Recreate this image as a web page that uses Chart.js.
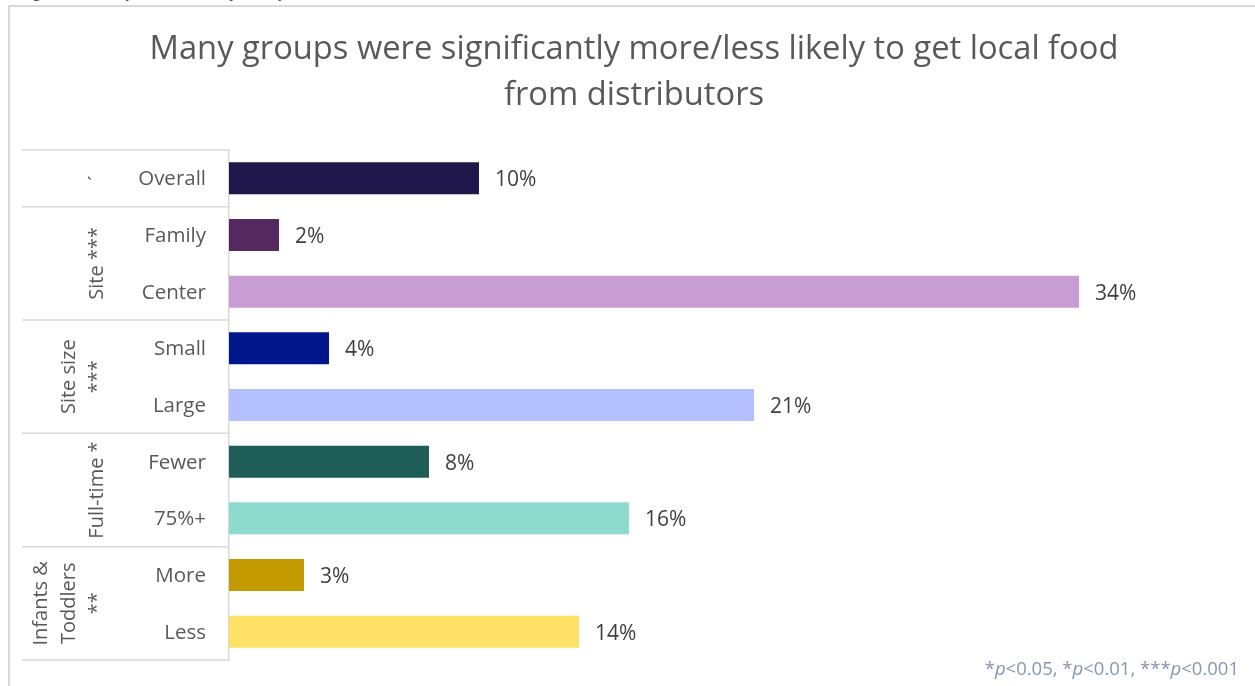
<!DOCTYPE html>
<html>
<head>
<meta charset="utf-8">
<script src="https://cdn.jsdelivr.net/npm/chart.js@4/dist/chart.umd.min.js"></script>
<style>
  html, body { margin: 0; padding: 0; background: #ffffff; }
  #wrap { position: relative; width: 1255px; height: 686px; }
  canvas { display: block; }
</style>
</head>
<body>
<div id="wrap"><canvas id="c" width="1255" height="686"></canvas></div>
<script>
const titleLines = ["Many groups were significantly more/less likely to get local food", "from distributors"];
const categories = ["Overall", "Family", "Center", "Small", "Large", "Fewer", "75%+", "More", "Less"];
const values = [10, 2, 34, 4, 21, 8, 16, 3, 14];
const groups = [
  { lines: ["\u00b4"], from: 0, to: 0 },
  { lines: ["Site ***"], from: 1, to: 2 },
  { lines: ["Site size", "***"], from: 3, to: 4 },
  { lines: ["Full-time *"], from: 5, to: 6 },
  { lines: ["Infants &", "Toddlers", "**"], from: 7, to: 8 }
];
const barColors = ["#20174A", "#54295F", "#C79DD3", "#00168A", "#B4BFFF", "#1E5E57", "#8EDBCE", "#C39B00", "#FEE165"];
const footnote = [["*", false], ["p", true], ["<0.05, *", false], ["p", true], ["<0.01, ***", false], ["p", true], ["<0.001", false]];
const captionText = "Figure 6. Local food sources by local food";

const FONT = "'Open Sans', 'Noto Sans', sans-serif";

const decor = {
  id: 'decor',
  beforeDraw(chart) {
    const ctx = chart.ctx;
    ctx.save();
    ctx.fillStyle = '#ffffff';
    ctx.fillRect(0, 0, chart.width, chart.height);
    // caption clipped at top
    ctx.fillStyle = '#44546A';
    ctx.font = "italic 16px " + FONT;
    ctx.textBaseline = 'alphabetic';
    ctx.textAlign = 'left';
    ctx.fillText(captionText, 22, -3);
    // outer frame
    ctx.strokeStyle = '#D9D9D9';
    ctx.lineWidth = 2;
    ctx.beginPath();
    ctx.moveTo(9, 700);
    ctx.lineTo(9, 6);
    ctx.lineTo(1255, 6);
    ctx.stroke();
    // title
    ctx.fillStyle = '#595959';
    ctx.font = "32.7px " + FONT;
    ctx.textAlign = 'center';
    ctx.textBaseline = 'middle';
    ctx.fillText(titleLines[0], 634, 50);
    ctx.fillText(titleLines[1], 634, 96);
    ctx.restore();
  },
  afterDraw(chart) {
    const ctx = chart.ctx;
    const y = chart.scales.y;
    const x = chart.scales.x;
    const area = chart.chartArea;
    const step = y.getPixelForValue(1) - y.getPixelForValue(0);
    ctx.save();
    // table lines
    ctx.strokeStyle = '#D9D9D9';
    ctx.lineWidth = 1.5;
    const bounds = [];
    groups.forEach((g, i) => {
      if (i === 0) bounds.push(y.getPixelForValue(g.from) - step / 2);
      bounds.push(y.getPixelForValue(g.to) + step / 2);
    });
    bounds.forEach(b => {
      ctx.beginPath();
      ctx.moveTo(22, b);
      ctx.lineTo(area.left, b);
      ctx.stroke();
    });
    // category labels
    ctx.fillStyle = '#595959';
    ctx.font = "20.5px " + FONT;
    ctx.textAlign = 'right';
    ctx.textBaseline = 'middle';
    categories.forEach((c, i) => {
      ctx.fillText(c, 206, y.getPixelForValue(i) + 1);
    });
    // group labels rotated
    groups.forEach(g => {
      const cy = (y.getPixelForValue(g.from) + y.getPixelForValue(g.to)) / 2;
      const n = g.lines.length;
      ctx.save();
      ctx.font = "20px " + FONT;
      ctx.textAlign = 'center';
      ctx.textBaseline = 'middle';
      g.lines.forEach((ln, k) => {
        const cx = 97 - (n - 1 - k) * 28;
        ctx.save();
        ctx.translate(cx, cy);
        ctx.rotate(-Math.PI / 2);
        ctx.fillText(ln, 0, 0);
        ctx.restore();
      });
      ctx.restore();
    });
    // data labels
    ctx.fillStyle = '#404040';
    ctx.font = "21px " + FONT;
    ctx.textAlign = 'left';
    ctx.textBaseline = 'middle';
    values.forEach((v, i) => {
      ctx.fillText(v + '%', x.getPixelForValue(v) + 16, y.getPixelForValue(i) + 2);
    });
    // footnote
    ctx.fillStyle = '#8497B0';
    ctx.textBaseline = 'middle';
    let total = 0;
    footnote.forEach(([t, it]) => {
      ctx.font = (it ? "italic " : "") + "18.5px " + FONT;
      total += ctx.measureText(t).width;
    });
    let px = 1239 - total;
    footnote.forEach(([t, it]) => {
      ctx.font = (it ? "italic " : "") + "18.5px " + FONT;
      ctx.fillText(t, px, 670);
      px += ctx.measureText(t).width;
    });
    ctx.restore();
  }
};

new Chart(document.getElementById('c'), {
  type: 'bar',
  data: {
    labels: categories,
    datasets: [{
      data: values,
      backgroundColor: barColors,
      borderWidth: 0,
      categoryPercentage: 1,
      barPercentage: 0.565
    }]
  },
  options: {
    indexAxis: 'y',
    responsive: false,
    animation: false,
    devicePixelRatio: 1,
    layout: { padding: { left: 229, right: 26, top: 150, bottom: 26 } },
    plugins: { legend: { display: false }, tooltip: { enabled: false }, title: { display: false } },
    scales: {
      x: {
        min: 0, max: 40,
        display: false,
        grid: { display: false }
      },
      y: {
        ticks: { display: false },
        grid: { display: false, drawTicks: false },
        border: { display: true, color: '#D9D9D9', width: 1.5 }
      }
    }
  },
  plugins: [decor]
});
</script>
</body>
</html>
